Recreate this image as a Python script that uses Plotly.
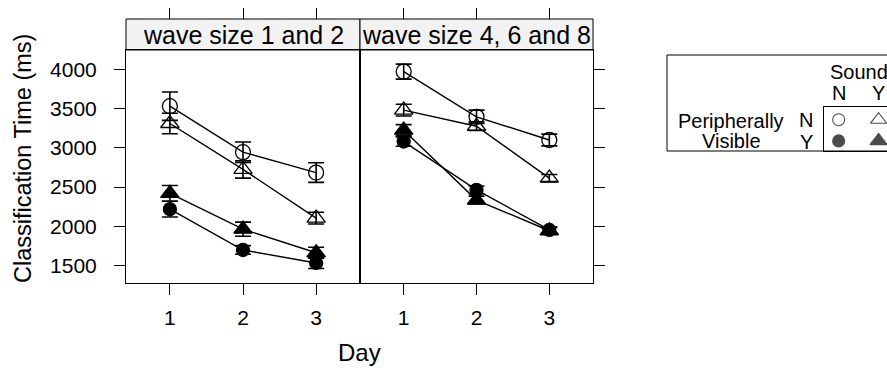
import plotly.graph_objects as go

W, H = 887, 370
FONT = "Liberation Sans, Arial, Helvetica, sans-serif"

days = [1, 2, 3]
day_ticks = [1, 2, 3]
y_ticks = [1500, 2000, 2500, 3000, 3500, 4000]
panels = ["wave size 1 and 2", "wave size 4, 6 and 8"]

# Panel 1: wave size 1 and 2
p1_nn = [3530, 2945, 2685]; p1_nn_err = [180, 130, 125]   # PV N, Sound N
p1_ny = [3310, 2725, 2105]; p1_ny_err = [130, 110, 75]    # PV N, Sound Y
p1_yn = [2220, 1700, 1535]; p1_yn_err = [100, 55, 70]     # PV Y, Sound N
p1_yy = [2420, 1965, 1665]; p1_yy_err = [100, 90, 70]     # PV Y, Sound Y
# Panel 2: wave size 4, 6 and 8
p2_nn = [3970, 3395, 3100]; p2_nn_err = [95, 85, 75]
p2_ny = [3480, 3275, 2615]; p2_ny_err = [75, 55, 45]
p2_yn = [3080, 2465, 1955]; p2_yn_err = [60, 50, 40]
p2_yy = [3225, 2335, 1945]; p2_yy_err = [70, 50, 40]

symbols = {"nn": ("circle-open", 15), "ny": ("triangle-up-open", 16),
           "yn": ("circle", 13), "yy": ("triangle-up", 16)}

fig = go.Figure()

def add_series(xa, ya, vals, errs, key):
    sym, size = symbols[key]
    fig.add_trace(go.Scatter(
        x=days, y=vals, xaxis=xa, yaxis=ya, mode="lines+markers",
        line=dict(color="black", width=1.4),
        marker=dict(symbol=sym, size=size, color="black",
                    line=dict(color="black", width=1.3)),
        error_y=dict(type="data", array=errs, visible=True, color="black",
                     thickness=1.6, width=8),
        showlegend=False, hoverinfo="skip"))

for vals, errs, key in [(p1_nn, p1_nn_err, "nn"), (p1_ny, p1_ny_err, "ny"),
                        (p1_yn, p1_yn_err, "yn"), (p1_yy, p1_yy_err, "yy")]:
    add_series("x", "y", vals, errs, key)
for vals, errs, key in [(p2_nn, p2_nn_err, "nn"), (p2_ny, p2_ny_err, "ny"),
                        (p2_yn, p2_yn_err, "yn"), (p2_yy, p2_yy_err, "yy")]:
    add_series("x2", "y2", vals, errs, key)

# legend key markers
leg_x = [1, 2, 1, 2]
leg_y = [2, 2, 1, 1]
leg_sym = ["circle-open", "triangle-up-open", "circle", "triangle-up"]
leg_size = [12, 14, 12, 15]
fig.add_trace(go.Scatter(
    x=leg_x, y=leg_y, xaxis="x5", yaxis="y5", mode="markers",
    marker=dict(symbol=leg_sym, size=leg_size, color="black",
                line=dict(color="black", width=1.1)),
    showlegend=False, hoverinfo="skip"))

px = lambda v: v / W
py = lambda v: 1 - v / H

xrange = [0.4, 3.6]
yrange = [1280, 4245]
ydom = [py(283), py(50)]
ax_common = dict(showgrid=False, zeroline=False, showline=True, mirror=True,
                 linecolor="black", linewidth=1, ticks="outside", ticklen=11,
                 tickwidth=1, tickcolor="black",
                 tickfont=dict(family=FONT, size=21, color="black"))

fig.update_layout(
    width=W, height=H, margin=dict(l=0, r=0, t=0, b=0),
    paper_bgcolor="white", plot_bgcolor="white",
    font=dict(family=FONT, color="black"),
    xaxis=dict(domain=[px(126), px(360)], range=xrange, tickvals=day_ticks,
               anchor="y", ticklabelstandoff=5, **ax_common),
    xaxis2=dict(domain=[px(360), px(593)], range=xrange, tickvals=day_ticks,
                anchor="y2", ticklabelstandoff=5, **ax_common),
    yaxis=dict(domain=ydom, range=yrange, tickvals=y_ticks, anchor="x",
               ticklabelstandoff=13, **ax_common),
    yaxis2=dict(domain=ydom, range=yrange, tickvals=y_ticks, anchor="x2",
                side="right", showticklabels=False, **ax_common),
    xaxis3=dict(overlaying="x", side="top", anchor="free", position=py(19),
                range=xrange, tickvals=day_ticks, showticklabels=False,
                showgrid=False, zeroline=False, showline=False,
                ticks="outside", ticklen=11, tickcolor="black"),
    xaxis4=dict(overlaying="x2", side="top", anchor="free", position=py(19),
                range=xrange, tickvals=day_ticks, showticklabels=False,
                showgrid=False, zeroline=False, showline=False,
                ticks="outside", ticklen=11, tickcolor="black"),
    xaxis5=dict(domain=[px(824), 1.0], range=[0.633, 2.21], anchor="y5",
                showgrid=False, zeroline=False, showticklabels=False,
                showline=True, mirror=True, linecolor="black", linewidth=1),
    yaxis5=dict(domain=[py(151), py(106.7)], range=[0.525, 2.613], anchor="x5",
                showgrid=False, zeroline=False, showticklabels=False,
                showline=True, mirror=False, linecolor="black", linewidth=1),
)

# dummy traces so overlay top-tick axes render
fig.add_trace(go.Scatter(x=[None], y=[None], xaxis="x3", yaxis="y",
                         showlegend=False, hoverinfo="skip"))
fig.add_trace(go.Scatter(x=[None], y=[None], xaxis="x4", yaxis="y2",
                         showlegend=False, hoverinfo="skip"))

shapes = []
annotations = []
for (x0, x1), title in zip([(126, 360), (360, 593)], panels):
    shapes.append(dict(type="rect", xref="paper", yref="paper",
                       x0=px(x0), x1=px(x1), y0=py(50), y1=py(19),
                       fillcolor="#f2f2f2", line=dict(color="black", width=1),
                       layer="below"))
    annotations.append(dict(text=title, xref="paper", yref="paper",
                            x=px((x0 + x1) / 2), y=py(34.5), showarrow=False,
                            xanchor="center", yanchor="middle",
                            font=dict(family=FONT, size=25, color="black")))

# legend outer box
shapes.append(dict(type="rect", xref="paper", yref="paper",
                   x0=px(667), x1=1.02, y0=py(151), y1=py(55),
                   fillcolor="rgba(0,0,0,0)", line=dict(color="black", width=1)))

def ann(text, x, y, size, xanchor="center"):
    annotations.append(dict(text=text, xref="paper", yref="paper", x=px(x), y=py(y),
                            showarrow=False, xanchor=xanchor, yanchor="middle",
                            font=dict(family=FONT, size=size, color="black")))

ann("Day", 359, 352, 24)
annotations.append(dict(text="Classification Time (ms)", xref="paper", yref="paper",
                        x=px(23), y=py(159), showarrow=False, textangle=-90,
                        xanchor="center", yanchor="middle",
                        font=dict(family=FONT, size=23.5, color="black")))
ann("Sound", 828, 72, 20, "left")
ann("N", 838.7, 93, 20)
ann("Y", 878.7, 93, 20)
ann("N", 815, 120, 20, "right")
ann("Y", 815, 142, 20, "right")
ann("Peripherally", 731, 121, 20)
ann("Visible", 731, 141, 20)

fig.update_layout(shapes=shapes, annotations=annotations)
fig.write_html("out.html")
